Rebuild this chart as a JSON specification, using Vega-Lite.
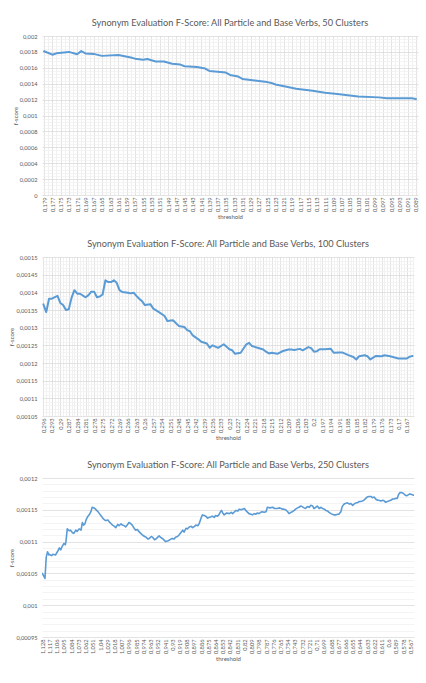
{
  "$schema": "https://vega.github.io/schema/vega-lite/v6.json",
  "background": "#ffffff",
  "padding": {"top": 18, "left": 8, "right": 6, "bottom": 4},
  "datasets": {
    "k50": [
      {"threshold": 0.179, "fscore": 0.001808},
      {"threshold": 0.177, "fscore": 0.001765},
      {"threshold": 0.176, "fscore": 0.001782},
      {"threshold": 0.173, "fscore": 0.0018},
      {"threshold": 0.171, "fscore": 0.00177},
      {"threshold": 0.17, "fscore": 0.00181},
      {"threshold": 0.169, "fscore": 0.00178},
      {"threshold": 0.167, "fscore": 0.001775},
      {"threshold": 0.165, "fscore": 0.00175},
      {"threshold": 0.161, "fscore": 0.00176},
      {"threshold": 0.158, "fscore": 0.00173},
      {"threshold": 0.157, "fscore": 0.001715},
      {"threshold": 0.155, "fscore": 0.0017},
      {"threshold": 0.154, "fscore": 0.00171},
      {"threshold": 0.152, "fscore": 0.00168},
      {"threshold": 0.15, "fscore": 0.00168},
      {"threshold": 0.148, "fscore": 0.00165},
      {"threshold": 0.146, "fscore": 0.00164},
      {"threshold": 0.145, "fscore": 0.00162},
      {"threshold": 0.142, "fscore": 0.00161},
      {"threshold": 0.14, "fscore": 0.00159},
      {"threshold": 0.139, "fscore": 0.00156},
      {"threshold": 0.137, "fscore": 0.00155},
      {"threshold": 0.135, "fscore": 0.00154},
      {"threshold": 0.134, "fscore": 0.00151},
      {"threshold": 0.132, "fscore": 0.00149},
      {"threshold": 0.131, "fscore": 0.00146},
      {"threshold": 0.128, "fscore": 0.00144},
      {"threshold": 0.125, "fscore": 0.00142},
      {"threshold": 0.124, "fscore": 0.00141},
      {"threshold": 0.123, "fscore": 0.00139},
      {"threshold": 0.12, "fscore": 0.001358},
      {"threshold": 0.118, "fscore": 0.001337},
      {"threshold": 0.116, "fscore": 0.001325},
      {"threshold": 0.114, "fscore": 0.00131},
      {"threshold": 0.111, "fscore": 0.001287},
      {"threshold": 0.108, "fscore": 0.00127},
      {"threshold": 0.106, "fscore": 0.001258},
      {"threshold": 0.103, "fscore": 0.00124},
      {"threshold": 0.098, "fscore": 0.001228},
      {"threshold": 0.096, "fscore": 0.001216},
      {"threshold": 0.093, "fscore": 0.001216},
      {"threshold": 0.09, "fscore": 0.001216},
      {"threshold": 0.089, "fscore": 0.001208}
    ],
    "k100": [
      {"threshold": 0.296, "fscore": 0.001366},
      {"threshold": 0.295, "fscore": 0.001344},
      {"threshold": 0.294, "fscore": 0.001382},
      {"threshold": 0.293, "fscore": 0.001382},
      {"threshold": 0.291, "fscore": 0.00139},
      {"threshold": 0.29, "fscore": 0.00137},
      {"threshold": 0.289, "fscore": 0.001364},
      {"threshold": 0.288, "fscore": 0.00135},
      {"threshold": 0.287, "fscore": 0.001352},
      {"threshold": 0.286, "fscore": 0.001385},
      {"threshold": 0.285, "fscore": 0.001406},
      {"threshold": 0.284, "fscore": 0.001396},
      {"threshold": 0.283, "fscore": 0.001396},
      {"threshold": 0.281, "fscore": 0.001386},
      {"threshold": 0.28, "fscore": 0.001392},
      {"threshold": 0.279, "fscore": 0.001402},
      {"threshold": 0.278, "fscore": 0.001402},
      {"threshold": 0.277, "fscore": 0.001386},
      {"threshold": 0.276, "fscore": 0.001388},
      {"threshold": 0.275, "fscore": 0.001394},
      {"threshold": 0.274, "fscore": 0.001434},
      {"threshold": 0.273, "fscore": 0.001429},
      {"threshold": 0.272, "fscore": 0.001429},
      {"threshold": 0.271, "fscore": 0.001434},
      {"threshold": 0.27, "fscore": 0.001427},
      {"threshold": 0.269, "fscore": 0.001406},
      {"threshold": 0.268, "fscore": 0.001401},
      {"threshold": 0.266, "fscore": 0.001399},
      {"threshold": 0.265, "fscore": 0.001397},
      {"threshold": 0.264, "fscore": 0.001399},
      {"threshold": 0.263, "fscore": 0.00139},
      {"threshold": 0.262, "fscore": 0.001382},
      {"threshold": 0.261, "fscore": 0.001375},
      {"threshold": 0.26, "fscore": 0.001364},
      {"threshold": 0.258, "fscore": 0.001366},
      {"threshold": 0.257, "fscore": 0.001354},
      {"threshold": 0.255, "fscore": 0.001344},
      {"threshold": 0.253, "fscore": 0.001333},
      {"threshold": 0.252, "fscore": 0.001319},
      {"threshold": 0.25, "fscore": 0.001321},
      {"threshold": 0.248, "fscore": 0.001305},
      {"threshold": 0.246, "fscore": 0.001302},
      {"threshold": 0.245, "fscore": 0.001293},
      {"threshold": 0.244, "fscore": 0.00129},
      {"threshold": 0.243, "fscore": 0.001278},
      {"threshold": 0.241, "fscore": 0.001267},
      {"threshold": 0.24, "fscore": 0.00126},
      {"threshold": 0.238, "fscore": 0.001255},
      {"threshold": 0.237, "fscore": 0.001243},
      {"threshold": 0.236, "fscore": 0.00125},
      {"threshold": 0.234, "fscore": 0.001243},
      {"threshold": 0.232, "fscore": 0.001253},
      {"threshold": 0.23, "fscore": 0.001239},
      {"threshold": 0.229, "fscore": 0.001236},
      {"threshold": 0.228, "fscore": 0.001226},
      {"threshold": 0.226, "fscore": 0.001229},
      {"threshold": 0.224, "fscore": 0.001253},
      {"threshold": 0.223, "fscore": 0.001257},
      {"threshold": 0.222, "fscore": 0.001248},
      {"threshold": 0.22, "fscore": 0.001243},
      {"threshold": 0.218, "fscore": 0.001238},
      {"threshold": 0.217, "fscore": 0.001232},
      {"threshold": 0.216, "fscore": 0.001227},
      {"threshold": 0.215, "fscore": 0.001229},
      {"threshold": 0.213, "fscore": 0.001226},
      {"threshold": 0.211, "fscore": 0.001234},
      {"threshold": 0.209, "fscore": 0.001238},
      {"threshold": 0.208, "fscore": 0.001238},
      {"threshold": 0.207, "fscore": 0.001237},
      {"threshold": 0.205, "fscore": 0.00124},
      {"threshold": 0.204, "fscore": 0.001236},
      {"threshold": 0.202, "fscore": 0.001245},
      {"threshold": 0.201, "fscore": 0.001242},
      {"threshold": 0.2, "fscore": 0.001232},
      {"threshold": 0.199, "fscore": 0.001233},
      {"threshold": 0.198, "fscore": 0.001239},
      {"threshold": 0.196, "fscore": 0.001239},
      {"threshold": 0.194, "fscore": 0.00124},
      {"threshold": 0.193, "fscore": 0.001229},
      {"threshold": 0.191, "fscore": 0.00123},
      {"threshold": 0.19, "fscore": 0.00123},
      {"threshold": 0.188, "fscore": 0.001223},
      {"threshold": 0.186, "fscore": 0.001217},
      {"threshold": 0.185, "fscore": 0.00121},
      {"threshold": 0.184, "fscore": 0.001219},
      {"threshold": 0.182, "fscore": 0.001222},
      {"threshold": 0.181, "fscore": 0.001219},
      {"threshold": 0.18, "fscore": 0.00121},
      {"threshold": 0.178, "fscore": 0.00122},
      {"threshold": 0.176, "fscore": 0.001219},
      {"threshold": 0.175, "fscore": 0.001222},
      {"threshold": 0.173, "fscore": 0.001219},
      {"threshold": 0.172, "fscore": 0.001217},
      {"threshold": 0.17, "fscore": 0.001213},
      {"threshold": 0.167, "fscore": 0.001213},
      {"threshold": 0.166, "fscore": 0.001218},
      {"threshold": 0.165, "fscore": 0.00122}
    ],
    "k250": [
      {"threshold": 1.128, "fscore": 0.00105},
      {"threshold": 1.126, "fscore": 0.001046},
      {"threshold": 1.124, "fscore": 0.001042},
      {"threshold": 1.122, "fscore": 0.001076},
      {"threshold": 1.12, "fscore": 0.001084},
      {"threshold": 1.118, "fscore": 0.001079},
      {"threshold": 1.117, "fscore": 0.00108},
      {"threshold": 1.114, "fscore": 0.001078},
      {"threshold": 1.112, "fscore": 0.00108},
      {"threshold": 1.108, "fscore": 0.001079},
      {"threshold": 1.105, "fscore": 0.001084},
      {"threshold": 1.102, "fscore": 0.00109},
      {"threshold": 1.1, "fscore": 0.001087},
      {"threshold": 1.098, "fscore": 0.001092},
      {"threshold": 1.095, "fscore": 0.001097},
      {"threshold": 1.093, "fscore": 0.001095},
      {"threshold": 1.092, "fscore": 0.0011},
      {"threshold": 1.09, "fscore": 0.00112},
      {"threshold": 1.087, "fscore": 0.001117},
      {"threshold": 1.085, "fscore": 0.001118},
      {"threshold": 1.082, "fscore": 0.001114},
      {"threshold": 1.08, "fscore": 0.001113},
      {"threshold": 1.077, "fscore": 0.001118},
      {"threshold": 1.075, "fscore": 0.001116},
      {"threshold": 1.072, "fscore": 0.00112},
      {"threshold": 1.069, "fscore": 0.001118},
      {"threshold": 1.067, "fscore": 0.00113},
      {"threshold": 1.065, "fscore": 0.001126},
      {"threshold": 1.063, "fscore": 0.001128},
      {"threshold": 1.061, "fscore": 0.001135},
      {"threshold": 1.059, "fscore": 0.001139},
      {"threshold": 1.056, "fscore": 0.001143},
      {"threshold": 1.054, "fscore": 0.001147},
      {"threshold": 1.052, "fscore": 0.001154},
      {"threshold": 1.049, "fscore": 0.001153},
      {"threshold": 1.047, "fscore": 0.001151},
      {"threshold": 1.044, "fscore": 0.001148},
      {"threshold": 1.041, "fscore": 0.001144},
      {"threshold": 1.038, "fscore": 0.00114},
      {"threshold": 1.036, "fscore": 0.001137},
      {"threshold": 1.033, "fscore": 0.001134},
      {"threshold": 1.031, "fscore": 0.001133},
      {"threshold": 1.028, "fscore": 0.001134},
      {"threshold": 1.026, "fscore": 0.001131},
      {"threshold": 1.023, "fscore": 0.001128},
      {"threshold": 1.021, "fscore": 0.001126},
      {"threshold": 1.018, "fscore": 0.001124},
      {"threshold": 1.016, "fscore": 0.001122},
      {"threshold": 1.013, "fscore": 0.001127},
      {"threshold": 1.011, "fscore": 0.001125},
      {"threshold": 1.008, "fscore": 0.001128},
      {"threshold": 1.006, "fscore": 0.001126},
      {"threshold": 1.003, "fscore": 0.001125},
      {"threshold": 1.001, "fscore": 0.001123},
      {"threshold": 0.998, "fscore": 0.001127},
      {"threshold": 0.996, "fscore": 0.00113},
      {"threshold": 0.993, "fscore": 0.001128},
      {"threshold": 0.991, "fscore": 0.001126},
      {"threshold": 0.988, "fscore": 0.001121},
      {"threshold": 0.986, "fscore": 0.001118},
      {"threshold": 0.983, "fscore": 0.001119},
      {"threshold": 0.981, "fscore": 0.001116},
      {"threshold": 0.978, "fscore": 0.001113},
      {"threshold": 0.975, "fscore": 0.00111},
      {"threshold": 0.972, "fscore": 0.001108},
      {"threshold": 0.97, "fscore": 0.001107},
      {"threshold": 0.967, "fscore": 0.001104},
      {"threshold": 0.965, "fscore": 0.001105},
      {"threshold": 0.962, "fscore": 0.001108},
      {"threshold": 0.96, "fscore": 0.001107},
      {"threshold": 0.957, "fscore": 0.001103},
      {"threshold": 0.955, "fscore": 0.001104},
      {"threshold": 0.952, "fscore": 0.001107},
      {"threshold": 0.95, "fscore": 0.001109},
      {"threshold": 0.947, "fscore": 0.001106},
      {"threshold": 0.945, "fscore": 0.001105},
      {"threshold": 0.942, "fscore": 0.001102},
      {"threshold": 0.94, "fscore": 0.0011},
      {"threshold": 0.937, "fscore": 0.001101},
      {"threshold": 0.935, "fscore": 0.001102},
      {"threshold": 0.932, "fscore": 0.001104},
      {"threshold": 0.93, "fscore": 0.001105},
      {"threshold": 0.927, "fscore": 0.001104},
      {"threshold": 0.925, "fscore": 0.001107},
      {"threshold": 0.922, "fscore": 0.001108},
      {"threshold": 0.92, "fscore": 0.00111},
      {"threshold": 0.917, "fscore": 0.001114},
      {"threshold": 0.914, "fscore": 0.001118},
      {"threshold": 0.912, "fscore": 0.001115},
      {"threshold": 0.909, "fscore": 0.001121},
      {"threshold": 0.907, "fscore": 0.00112},
      {"threshold": 0.904, "fscore": 0.001123},
      {"threshold": 0.901, "fscore": 0.001124},
      {"threshold": 0.899, "fscore": 0.001122},
      {"threshold": 0.896, "fscore": 0.001124},
      {"threshold": 0.894, "fscore": 0.001126},
      {"threshold": 0.891, "fscore": 0.001125},
      {"threshold": 0.889, "fscore": 0.001128},
      {"threshold": 0.886, "fscore": 0.001137},
      {"threshold": 0.884, "fscore": 0.001142},
      {"threshold": 0.881, "fscore": 0.001141},
      {"threshold": 0.879, "fscore": 0.00114},
      {"threshold": 0.876, "fscore": 0.001137},
      {"threshold": 0.874, "fscore": 0.001138},
      {"threshold": 0.871, "fscore": 0.001139},
      {"threshold": 0.869, "fscore": 0.00114},
      {"threshold": 0.866, "fscore": 0.001138},
      {"threshold": 0.864, "fscore": 0.001141},
      {"threshold": 0.861, "fscore": 0.00114},
      {"threshold": 0.859, "fscore": 0.001142},
      {"threshold": 0.857, "fscore": 0.001146},
      {"threshold": 0.855, "fscore": 0.001149},
      {"threshold": 0.853, "fscore": 0.001145},
      {"threshold": 0.851, "fscore": 0.001142},
      {"threshold": 0.847, "fscore": 0.001145},
      {"threshold": 0.843, "fscore": 0.001144},
      {"threshold": 0.84, "fscore": 0.001146},
      {"threshold": 0.838, "fscore": 0.001144},
      {"threshold": 0.835, "fscore": 0.001147},
      {"threshold": 0.833, "fscore": 0.001149},
      {"threshold": 0.83, "fscore": 0.001148},
      {"threshold": 0.828, "fscore": 0.001151},
      {"threshold": 0.825, "fscore": 0.00115},
      {"threshold": 0.823, "fscore": 0.001151},
      {"threshold": 0.82, "fscore": 0.001152},
      {"threshold": 0.818, "fscore": 0.001149},
      {"threshold": 0.815, "fscore": 0.001146},
      {"threshold": 0.813, "fscore": 0.001144},
      {"threshold": 0.81, "fscore": 0.001143},
      {"threshold": 0.808, "fscore": 0.001142},
      {"threshold": 0.805, "fscore": 0.001144},
      {"threshold": 0.803, "fscore": 0.001143},
      {"threshold": 0.8, "fscore": 0.001145},
      {"threshold": 0.798, "fscore": 0.001144},
      {"threshold": 0.795, "fscore": 0.001146},
      {"threshold": 0.793, "fscore": 0.001147},
      {"threshold": 0.79, "fscore": 0.001146},
      {"threshold": 0.787, "fscore": 0.001147},
      {"threshold": 0.785, "fscore": 0.001154},
      {"threshold": 0.781, "fscore": 0.001153},
      {"threshold": 0.777, "fscore": 0.001154},
      {"threshold": 0.774, "fscore": 0.001152},
      {"threshold": 0.77, "fscore": 0.001152},
      {"threshold": 0.766, "fscore": 0.001153},
      {"threshold": 0.762, "fscore": 0.001151},
      {"threshold": 0.76, "fscore": 0.001151},
      {"threshold": 0.757, "fscore": 0.00115},
      {"threshold": 0.754, "fscore": 0.001147},
      {"threshold": 0.752, "fscore": 0.001144},
      {"threshold": 0.749, "fscore": 0.001146},
      {"threshold": 0.747, "fscore": 0.001147},
      {"threshold": 0.744, "fscore": 0.001149},
      {"threshold": 0.742, "fscore": 0.001151},
      {"threshold": 0.739, "fscore": 0.001153},
      {"threshold": 0.737, "fscore": 0.001154},
      {"threshold": 0.734, "fscore": 0.001156},
      {"threshold": 0.732, "fscore": 0.001155},
      {"threshold": 0.729, "fscore": 0.001153},
      {"threshold": 0.727, "fscore": 0.001152},
      {"threshold": 0.724, "fscore": 0.001155},
      {"threshold": 0.721, "fscore": 0.001154},
      {"threshold": 0.719, "fscore": 0.001157},
      {"threshold": 0.716, "fscore": 0.001156},
      {"threshold": 0.714, "fscore": 0.001152},
      {"threshold": 0.711, "fscore": 0.001154},
      {"threshold": 0.709, "fscore": 0.001156},
      {"threshold": 0.706, "fscore": 0.001152},
      {"threshold": 0.703, "fscore": 0.001154},
      {"threshold": 0.701, "fscore": 0.001152},
      {"threshold": 0.698, "fscore": 0.001151},
      {"threshold": 0.696, "fscore": 0.001149},
      {"threshold": 0.693, "fscore": 0.001148},
      {"threshold": 0.691, "fscore": 0.001146},
      {"threshold": 0.688, "fscore": 0.001144},
      {"threshold": 0.686, "fscore": 0.001143},
      {"threshold": 0.683, "fscore": 0.001142},
      {"threshold": 0.681, "fscore": 0.001142},
      {"threshold": 0.678, "fscore": 0.001143},
      {"threshold": 0.676, "fscore": 0.001143},
      {"threshold": 0.673, "fscore": 0.001147},
      {"threshold": 0.671, "fscore": 0.001155},
      {"threshold": 0.668, "fscore": 0.001159},
      {"threshold": 0.666, "fscore": 0.00116},
      {"threshold": 0.663, "fscore": 0.001161},
      {"threshold": 0.66, "fscore": 0.001159},
      {"threshold": 0.658, "fscore": 0.00116},
      {"threshold": 0.655, "fscore": 0.001157},
      {"threshold": 0.653, "fscore": 0.001159},
      {"threshold": 0.65, "fscore": 0.001161},
      {"threshold": 0.648, "fscore": 0.001161},
      {"threshold": 0.645, "fscore": 0.001163},
      {"threshold": 0.643, "fscore": 0.001163},
      {"threshold": 0.64, "fscore": 0.001164},
      {"threshold": 0.638, "fscore": 0.001165},
      {"threshold": 0.635, "fscore": 0.001168},
      {"threshold": 0.633, "fscore": 0.00117},
      {"threshold": 0.63, "fscore": 0.001171},
      {"threshold": 0.627, "fscore": 0.001171},
      {"threshold": 0.625, "fscore": 0.001169},
      {"threshold": 0.622, "fscore": 0.00117},
      {"threshold": 0.62, "fscore": 0.001167},
      {"threshold": 0.617, "fscore": 0.001165},
      {"threshold": 0.615, "fscore": 0.001165},
      {"threshold": 0.612, "fscore": 0.001164},
      {"threshold": 0.609, "fscore": 0.001165},
      {"threshold": 0.607, "fscore": 0.001164},
      {"threshold": 0.605, "fscore": 0.001162},
      {"threshold": 0.602, "fscore": 0.001163},
      {"threshold": 0.6, "fscore": 0.001164},
      {"threshold": 0.597, "fscore": 0.001165},
      {"threshold": 0.594, "fscore": 0.001167},
      {"threshold": 0.592, "fscore": 0.001167},
      {"threshold": 0.589, "fscore": 0.001168},
      {"threshold": 0.587, "fscore": 0.001168},
      {"threshold": 0.585, "fscore": 0.001174},
      {"threshold": 0.583, "fscore": 0.001177},
      {"threshold": 0.58, "fscore": 0.001177},
      {"threshold": 0.578, "fscore": 0.001176},
      {"threshold": 0.576, "fscore": 0.001174},
      {"threshold": 0.573, "fscore": 0.001172},
      {"threshold": 0.571, "fscore": 0.001173},
      {"threshold": 0.568, "fscore": 0.001175},
      {"threshold": 0.565, "fscore": 0.001174},
      {"threshold": 0.562, "fscore": 0.001173}
    ]
  },
  "config": {
    "font": "Lato",
    "view": {"stroke": null},
    "title": {"fontSize": 9.2, "fontWeight": "normal", "color": "#595959", "offset": 5, "anchor": "middle"},
    "axis": {
      "labelFont": "Lato",
      "labelFontSize": 5.7,
      "labelColor": "#595959",
      "titleFont": "Lato",
      "titleFontSize": 6,
      "titleFontWeight": "normal",
      "titleColor": "#595959",
      "domain": false,
      "ticks": false,
      "labelOverlap": false,
      "labelFlush": false,
      "labelBound": false
    },
    "axisX": {"labelAngle": -90, "labelPadding": 2, "titlePadding": 1, "minExtent": 17, "maxExtent": 17},
    "axisY": {"labelPadding": 5, "titlePadding": 2},
    "line": {"color": "#5B9BD5", "strokeWidth": 2, "strokeJoin": "round", "strokeCap": "round"}
  },
  "concat": [
    {
      "title": "Synonym Evaluation F-Score: All Particle and Base Verbs, 50 Clusters",
      "width": 376,
      "height": 159,
      "data": {"name": "k50"},
      "mark": {"type": "line", "clip": true},
      "encoding": {
        "x": {
          "field": "threshold",
          "type": "quantitative",
          "title": "threshold",
          "scale": {"domain": [0.0885, 0.1795], "reverse": true, "nice": false, "zero": false},
          "axis": {
            "values": [0.089,0.09,0.091,0.092,0.093,0.094,0.095,0.096,0.097,0.098,0.099,0.1,0.101,0.102,0.103,0.104,0.105,0.106,0.107,0.108,0.109,0.11,0.111,0.112,0.113,0.114,0.115,0.116,0.117,0.118,0.119,0.12,0.121,0.122,0.123,0.124,0.125,0.126,0.127,0.128,0.129,0.13,0.131,0.132,0.133,0.134,0.135,0.136,0.137,0.138,0.139,0.14,0.141,0.142,0.143,0.144,0.145,0.146,0.147,0.148,0.149,0.15,0.151,0.152,0.153,0.154,0.155,0.156,0.157,0.158,0.159,0.16,0.161,0.162,0.163,0.164,0.165,0.166,0.167,0.168,0.169,0.17,0.171,0.172,0.173,0.174,0.175,0.176,0.177,0.178,0.179],
            "labelExpr": "round(datum.value*1000) % 2 == 1 ? replace(toString(round(datum.value*1000)/1000), '.', ',') : ''",
            "gridColor": {"condition": {"test": "round(datum.value*1000) % 2 == 1", "value": "#d9d9d9"}, "value": "#ececec"},
            "gridWidth": 0.75
          }
        },
        "y": {
          "field": "fscore",
          "type": "quantitative",
          "title": "f-score",
          "scale": {"domain": [0, 0.002], "nice": false, "zero": false},
          "axis": {
            "minExtent": 22,
            "maxExtent": 22,
            "values": [0,0.00004,0.00008,0.00012,0.00016,0.0002,0.00024,0.00028,0.00032,0.00036,0.0004,0.00044,0.00048,0.00052,0.00056,0.0006,0.00064,0.00068,0.00072,0.00076,0.0008,0.00084,0.00088,0.00092,0.00096,0.001,0.00104,0.00108,0.00112,0.00116,0.0012,0.00124,0.00128,0.00132,0.00136,0.0014,0.00144,0.00148,0.00152,0.00156,0.0016,0.00164,0.00168,0.00172,0.00176,0.0018,0.00184,0.00188,0.00192,0.00196,0.002],
            "labelExpr": "round(datum.value*100000) % 20 == 0 ? replace(toString(round(datum.value*100000)/100000), '.', ',') : ''",
            "gridColor": {"condition": {"test": "round(datum.value*100000) % 20 == 0", "value": "#d9d9d9"}, "value": "#f0f0f0"},
            "gridWidth": 0.75
          }
        }
      }
    },
    {
      "title": "Synonym Evaluation F-Score: All Particle and Base Verbs, 100 Clusters",
      "width": 372,
      "height": 159,
      "data": {"name": "k100"},
      "mark": {"type": "line", "clip": true},
      "encoding": {
        "x": {
          "field": "threshold",
          "type": "quantitative",
          "title": "threshold",
          "scale": {"domain": [0.1645, 0.2965], "reverse": true, "nice": false, "zero": false},
          "axis": {
            "values": [0.165,0.166,0.167,0.168,0.169,0.17,0.171,0.172,0.173,0.174,0.175,0.176,0.177,0.178,0.179,0.18,0.181,0.182,0.183,0.184,0.185,0.186,0.187,0.188,0.189,0.19,0.191,0.192,0.193,0.194,0.195,0.196,0.197,0.198,0.199,0.2,0.201,0.202,0.203,0.204,0.205,0.206,0.207,0.208,0.209,0.21,0.211,0.212,0.213,0.214,0.215,0.216,0.217,0.218,0.219,0.22,0.221,0.222,0.223,0.224,0.225,0.226,0.227,0.228,0.229,0.23,0.231,0.232,0.233,0.234,0.235,0.236,0.237,0.238,0.239,0.24,0.241,0.242,0.243,0.244,0.245,0.246,0.247,0.248,0.249,0.25,0.251,0.252,0.253,0.254,0.255,0.256,0.257,0.258,0.259,0.26,0.261,0.262,0.263,0.264,0.265,0.266,0.267,0.268,0.269,0.27,0.271,0.272,0.273,0.274,0.275,0.276,0.277,0.278,0.279,0.28,0.281,0.282,0.283,0.284,0.285,0.286,0.287,0.288,0.289,0.29,0.291,0.292,0.293,0.294,0.295,0.296],
            "labelExpr": "(296 - round(datum.value*1000)) % 3 == 0 ? replace(toString(round(datum.value*1000)/1000), '.', ',') : ''",
            "gridColor": {"condition": {"test": "(296 - round(datum.value*1000)) % 3 == 0", "value": "#d9d9d9"}, "value": "#ececec"},
            "gridWidth": 0.75
          }
        },
        "y": {
          "field": "fscore",
          "type": "quantitative",
          "title": "f-score",
          "scale": {"domain": [0.00105, 0.0015], "nice": false, "zero": false},
          "axis": {
            "minExtent": 26,
            "maxExtent": 26,
            "values": [0.00105,0.00106,0.00107,0.00108,0.00109,0.0011,0.00111,0.00112,0.00113,0.00114,0.00115,0.00116,0.00117,0.00118,0.00119,0.0012,0.00121,0.00122,0.00123,0.00124,0.00125,0.00126,0.00127,0.00128,0.00129,0.0013,0.00131,0.00132,0.00133,0.00134,0.00135,0.00136,0.00137,0.00138,0.00139,0.0014,0.00141,0.00142,0.00143,0.00144,0.00145,0.00146,0.00147,0.00148,0.00149,0.0015],
            "labelExpr": "round(datum.value*100000) % 5 == 0 ? replace(toString(round(datum.value*100000)/100000), '.', ',') : ''",
            "gridColor": {"condition": {"test": "round(datum.value*100000) % 5 == 0", "value": "#d9d9d9"}, "value": "#f0f0f0"},
            "gridWidth": 0.75
          }
        }
      }
    },
    {
      "title": "Synonym Evaluation F-Score: All Particle and Base Verbs, 250 Clusters",
      "width": 372,
      "height": 159,
      "data": {"name": "k250"},
      "mark": {"type": "line", "clip": true, "strokeWidth": 1.6},
      "encoding": {
        "x": {
          "field": "threshold",
          "type": "quantitative",
          "title": "threshold",
          "scale": {"domain": [0.5615, 1.1285], "reverse": true, "nice": false, "zero": false},
          "axis": {
            "values": [1.128,1.117,1.106,1.095,1.084,1.073,1.062,1.051,1.04,1.029,1.018,1.007,0.996,0.985,0.974,0.963,0.952,0.941,0.93,0.919,0.908,0.897,0.886,0.875,0.864,0.853,0.842,0.831,0.82,0.809,0.798,0.787,0.776,0.765,0.754,0.743,0.732,0.721,0.71,0.699,0.688,0.677,0.666,0.655,0.644,0.633,0.622,0.611,0.6,0.589,0.578,0.567],
            "grid": false,
            "labelExpr": "replace(toString(round(datum.value*1000)/1000), '.', ',')"
          }
        },
        "y": {
          "field": "fscore",
          "type": "quantitative",
          "title": "f-score",
          "scale": {"domain": [0.00095, 0.0012], "nice": false, "zero": false},
          "axis": {
            "minExtent": 26,
            "maxExtent": 26,
            "values": [0.00095,0.00096,0.00097,0.00098,0.00099,0.001,0.00101,0.00102,0.00103,0.00104,0.00105,0.00106,0.00107,0.00108,0.00109,0.0011,0.00111,0.00112,0.00113,0.00114,0.00115,0.00116,0.00117,0.00118,0.00119,0.0012],
            "labelExpr": "round(datum.value*100000) % 5 == 0 ? replace(toString(round(datum.value*100000)/100000), '.', ',') : ''",
            "gridColor": {"condition": {"test": "round(datum.value*100000) % 5 == 0", "value": "#d9d9d9"}, "value": "#f0f0f0"},
            "gridWidth": 0.75
          }
        }
      }
    }
  ],
  "columns": 1,
  "align": "none",
  "spacing": 20
}
